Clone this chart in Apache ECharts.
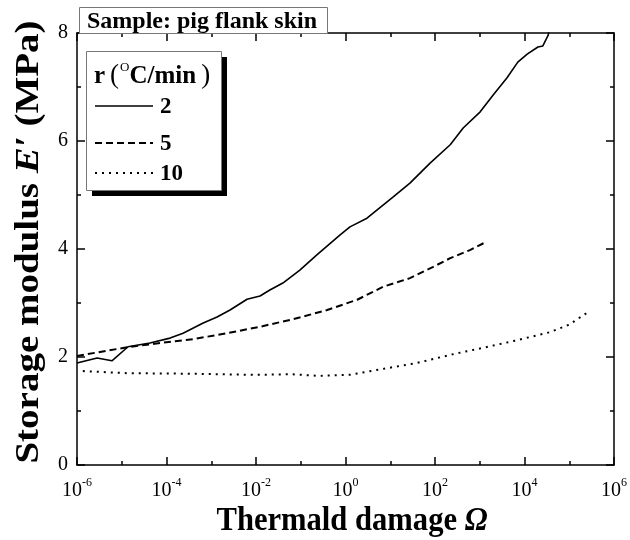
<!DOCTYPE html>
<html>
<head>
<meta charset="utf-8">
<script src="https://cdn.jsdelivr.net/npm/echarts@6/dist/echarts.min.js"></script>
<style>html,body{margin:0;padding:0;background:#fff}#c{width:630px;height:540px}</style>
</head>
<body>
<div id="c"></div>
<script>
// x values are log10(Ω) (decade exponents), y values are E' in MPa
const logOmega2 = [-6, -5.55, -5.22, -4.86, -4.37, -3.92, -3.63, -3.18, -2.87, -2.58, -2.20, -1.91, -1.69, -1.40, -1.02, -0.64, -0.12, 0.10, 0.48, 1.06, 1.44, 1.89, 2.34, 2.63, 3.01, 3.30, 3.61, 3.85, 4.06, 4.30, 4.41, 4.53, 4.58];
const E2 = [1.89, 1.98, 1.93, 2.19, 2.26, 2.35, 2.44, 2.63, 2.74, 2.87, 3.07, 3.13, 3.24, 3.37, 3.61, 3.89, 4.26, 4.41, 4.57, 4.96, 5.22, 5.59, 5.93, 6.24, 6.54, 6.85, 7.17, 7.46, 7.61, 7.74, 7.76, 7.96, 8.2];
const logOmega5 = [-6, -4.88, -4.14, -3.41, -2.65, -1.91, -1.17, -0.41, 0.26, 0.84, 1.44, 1.96, 2.34, 2.78, 3.14];
const E5 = [2.02, 2.18, 2.26, 2.33, 2.44, 2.56, 2.70, 2.87, 3.06, 3.30, 3.46, 3.67, 3.83, 3.98, 4.13];
const logOmega10 = [-5.87, -4.88, -3.41, -2.07, -1.2, -0.57, 0.10, 0.84, 1.60, 2.34, 3.07, 3.83, 4.57, 5.0, 5.40];
const E10 = [1.74, 1.70, 1.69, 1.67, 1.68, 1.65, 1.67, 1.78, 1.89, 2.04, 2.17, 2.31, 2.46, 2.60, 2.82];
const rateLabels = ['2', '5', '10'];

const SERIF = '"Liberation Serif", "Times New Roman", serif';
const chart = echarts.init(document.getElementById('c'), null, {renderer: 'canvas'});

function pairs(xs, ys) { return xs.map((x, i) => [x, ys[i]]); }

const axisLine = {show: true, onZero: false, lineStyle: {color: '#000', width: 1.5}};
const axisTick = {show: true, inside: true, length: 8, lineStyle: {color: '#000', width: 1.5}};
const minorTick = {show: true, splitNumber: 2, length: 4, lineStyle: {color: '#000', width: 1.5}};

const legendTop = 51, legendLeft = 86, legendW = 135, legendH = 139;
const entryY = [106, 143, 173];
const dashes = [null, [7, 4], [2, 5]];

chart.setOption({
  animation: false,
  backgroundColor: '#fff',
  grid: {left: 77, right: 16, top: 33, bottom: 75},
  xAxis: [{
    type: 'value', min: -6, max: 6, interval: 2,
    axisLine, axisTick, minorTick,
    splitLine: {show: false},
    axisLabel: {
      margin: 12,
      formatter: v => '{b|10}{s|' + v + '}',
      rich: {
        b: {fontFamily: SERIF, fontSize: 20, color: '#000', lineHeight: 24, verticalAlign: 'bottom'},
        s: {fontFamily: SERIF, fontSize: 12, color: '#000', lineHeight: 14, verticalAlign: 'top'}
      }
    }
  }, {
    type: 'value', position: 'top', min: -6, max: 6, interval: 2,
    axisLine, axisTick, minorTick,
    axisLabel: {show: false}, splitLine: {show: false}
  }],
  yAxis: [{
    type: 'value', min: 0, max: 8, interval: 2,
    axisLine, axisTick, minorTick,
    splitLine: {show: false},
    axisLabel: {fontFamily: SERIF, fontSize: 20, color: '#000', margin: 9}
  }, {
    type: 'value', position: 'right', min: 0, max: 8, interval: 2,
    axisLine, axisTick, minorTick,
    axisLabel: {show: false}, splitLine: {show: false}
  }],
  series: [
    {type: 'line', name: rateLabels[0], data: pairs(logOmega2, E2), showSymbol: false, clip: true,
     lineStyle: {color: '#000', width: 1.6, type: 'solid'}},
    {type: 'line', name: rateLabels[1], data: pairs(logOmega5, E5), showSymbol: false, clip: true,
     lineStyle: {color: '#000', width: 2, type: [7, 4]}},
    {type: 'line', name: rateLabels[2], data: pairs(logOmega10, E10), showSymbol: false, clip: true,
     lineStyle: {color: '#000', width: 2, type: [2, 5]}}
  ],
  graphic: [
    // axis titles
    {type: 'text', x: 352, y: 521, scaleX: 0.9, z: 100,
     style: {
       text: '{b|Thermald damage }{i|Ω}', align: 'center', verticalAlign: 'middle',
       rich: {
         b: {font: 'bold 34px ' + SERIF, fill: '#000'},
         i: {font: 'italic bold 34px ' + SERIF, fill: '#000'}
       }
     }},
    {type: 'text', x: 29, y: 242, rotation: Math.PI / 2, scaleY: 0.88, z: 100,
     style: {
       text: '{b|Storage modulus }{i|E′}{b| (MPa)}', align: 'center', verticalAlign: 'middle',
       rich: {
         b: {font: 'bold 39px ' + SERIF, fill: '#000'},
         i: {font: 'italic bold 39px ' + SERIF, fill: '#000'}
       }
     }},
    // title box
    {type: 'rect', left: 79, top: 7, shape: {width: 248, height: 26},
     style: {fill: '#fff', stroke: '#777', lineWidth: 1}, z: 100},
    {type: 'text', x: 87, y: 22, z: 101,
     style: {text: 'Sample: pig flank skin', font: 'bold 24px ' + SERIF, fill: '#000', verticalAlign: 'middle'}},
    // legend shadow and box
    {type: 'rect', left: legendLeft + 6, top: legendTop + 6, shape: {width: legendW, height: legendH},
     style: {fill: '#000'}, z: 100},
    {type: 'rect', left: legendLeft, top: legendTop, shape: {width: legendW, height: legendH},
     style: {fill: '#fff', stroke: '#777', lineWidth: 1}, z: 101},
    {type: 'text', x: 94, y: 75, z: 102,
     style: {
       text: '{b|r}{p|(}{s|O}{b|C/min}{p|)}', verticalAlign: 'middle',
       rich: {
         b: {font: 'bold 25px ' + SERIF, fill: '#000', lineHeight: 28, verticalAlign: 'bottom'},
         p: {font: '27px ' + SERIF, fill: '#000', lineHeight: 28, verticalAlign: 'bottom', padding: [0, 1, 0, 5]},
         s: {font: '13px ' + SERIF, fill: '#000', lineHeight: 14, verticalAlign: 'top'}
       }
     }},
  ].concat(rateLabels.flatMap((lab, i) => [
    {type: 'line', z: 102, shape: {x1: 95, y1: entryY[i], x2: 153, y2: entryY[i]},
     style: {stroke: '#000', lineWidth: i === 0 ? 1.6 : 2, lineDash: dashes[i]}},
    {type: 'text', z: 102, x: 160, y: entryY[i] + 1,
     style: {text: lab, font: 'bold 23px ' + SERIF, fill: '#000', verticalAlign: 'middle'}}
  ]))
});
</script>
</body>
</html>
